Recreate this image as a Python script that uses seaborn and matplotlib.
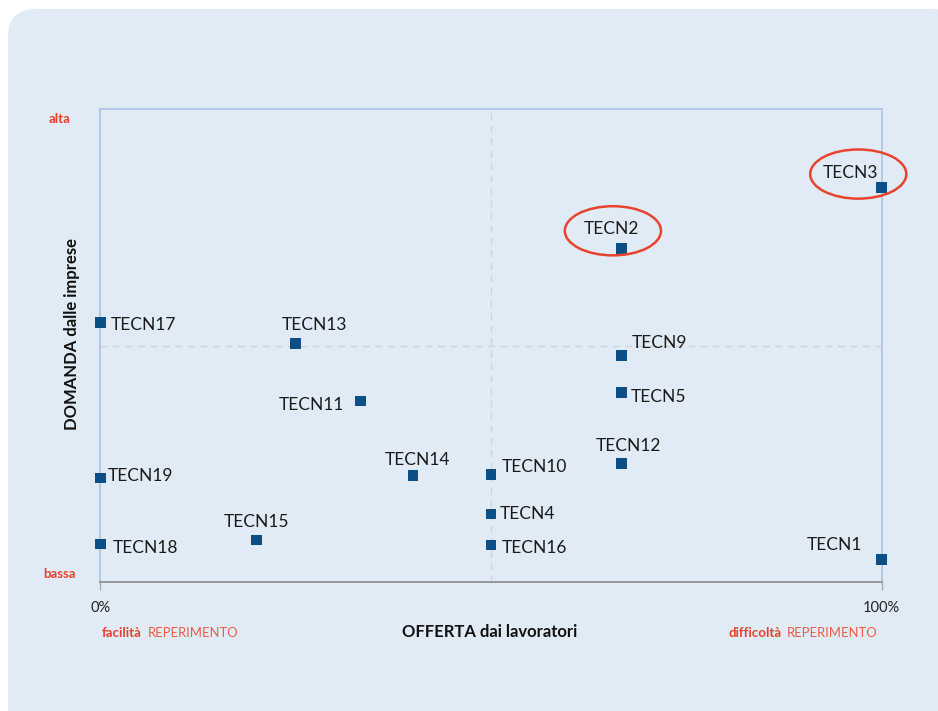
import numpy as np
import pandas as pd
import seaborn as sns
import matplotlib
matplotlib.use("Agg")
import matplotlib.pyplot as plt
from matplotlib.patches import FancyBboxPatch, Ellipse

# ---------------- data ----------------
labels = ["TECN1", "TECN2", "TECN3", "TECN4", "TECN5", "TECN9", "TECN10", "TECN11",
          "TECN12", "TECN13", "TECN14", "TECN15", "TECN16", "TECN17", "TECN18", "TECN19"]
offerta = [100, 66.7, 100, 50, 66.7, 66.7, 50, 33.3,
           66.7, 25, 40, 20, 50, 0, 0, 0]
domanda = [4.7, 70.6, 83.4, 14.4, 40.1, 47.9, 22.8, 38.3,
           25.1, 50.5, 22.5, 8.9, 7.8, 54.9, 8.0, 22.0]
highlighted = ["TECN2", "TECN3"]
x_ticks = [0, 100]
x_tick_labels = ["0%", "100%"]

# label placement (pixel offsets from point, horizontal alignment)
label_style = {
    "TECN1": (-20, 15, "right"), "TECN2": (-10, 19, "center"), "TECN3": (-3, 15, "right"),
    "TECN4": (9, 0, "left"), "TECN5": (9, -5, "left"), "TECN9": (10, 13, "left"),
    "TECN10": (11, 7, "left"), "TECN11": (-16, -4, "right"), "TECN12": (7, 17, "center"),
    "TECN13": (19, 18, "center"), "TECN14": (5, 16, "center"), "TECN15": (0, 18, "center"),
    "TECN16": (11, -3, "left"), "TECN17": (10, -3, "left"), "TECN18": (12, -4, "left"),
    "TECN19": (7, 2, "left"),
}
# ellipse centre offsets from point (data units) for highlighted items
ellipse_style = {"TECN2": (-1.1, 3.7), "TECN3": (-3.0, 2.9)}

df = pd.DataFrame({"label": labels, "offerta": offerta, "domanda": domanda})

sns.set_style("white")
plt.rcParams["font.family"] = ["Lato", "DejaVu Sans"]

W, H = 938, 711
fig = plt.figure(figsize=(W / 100, H / 100), dpi=100, facecolor="white")

def fx(x):
    return x / W

def fy(y):
    return 1 - y / H

bg = "#e1ebf5"
panel = FancyBboxPatch((fx(8), fy(711 + 40)), fx(960 - 8), (711 + 40 - 9) / H,
                       boxstyle="round,pad=0,rounding_size=0.03",
                       transform=fig.transFigure, facecolor=bg, edgecolor="none",
                       zorder=-10, mutation_aspect=W / H)
fig.patches.append(panel)

left, right, top, bottom = 100.3, 881.7, 109.3, 582
ax = fig.add_axes([fx(left), fy(bottom), fx(right - left), (bottom - top) / H])
ax.set_zorder(1)
ax.set_facecolor(bg)

ax.axvline(50, color="#cfd3d8", lw=1, ls=(0, (5, 4)), zorder=1)
ax.axhline(50, color="#cfd3d8", lw=1, ls=(0, (5, 4)), zorder=1)

sns.scatterplot(data=df, x="offerta", y="domanda", marker="s", s=58,
                color="#0b4f86", edgecolor="none", ax=ax, zorder=3, clip_on=False)

ax.set_xlim(0, 100)
ax.set_ylim(0, 100)

for lab, x, y in zip(labels, offerta, domanda):
    dx, dy, ha = label_style[lab]
    ax.annotate(lab, (x, y), xytext=(dx * 0.72, dy * 0.72), textcoords="offset points",
                ha=ha, va="center", fontsize=12.5, color="#1a1a1a", zorder=4)

for lab in highlighted:
    i = labels.index(lab)
    ox, oy = ellipse_style[lab]
    e = Ellipse((offerta[i] + ox, domanda[i] + oy), width=12.3, height=10.4,
                facecolor="none", edgecolor="#e8432f", lw=1.8, clip_on=False, zorder=5)
    ax.add_patch(e)

for s in ["left", "top", "right"]:
    ax.spines[s].set_color("#a9c4e3")
    ax.spines[s].set_linewidth(1.2)
ax.spines["bottom"].set_color("#8a8a8a")
ax.spines["bottom"].set_linewidth(1.2)

ax.set_xticks(x_ticks)
ax.set_xticklabels(x_tick_labels, fontsize=10.5, color="#222222")
ax.tick_params(axis="x", length=6, color="#a0a0a0", pad=8, bottom=True)
ax.set_yticks([])
ax.set_xlabel("")
ax.set_ylabel("")

red = "#e8402f"
fig.text(fx(490), fy(632), "OFFERTA dai lavoratori", ha="center", va="center",
         fontsize=12, fontweight="bold", color="#111111")
fig.text(fx(72), fy(334), "DOMANDA dalle imprese", ha="center", va="center",
         rotation=90, fontsize=12, fontweight="bold", color="#111111")
fig.text(fx(60), fy(119), "alta", ha="center", va="center", fontsize=9.5,
         fontweight="bold", color=red)
fig.text(fx(59), fy(574), "bassa", ha="center", va="center", fontsize=9.5,
         fontweight="bold", color=red)
fig.text(fx(102), fy(633), "facilità", ha="left", va="center", fontsize=9.5,
         fontweight="bold", color=red)
fig.text(fx(148), fy(633), "REPERIMENTO", ha="left", va="center", fontsize=9.4,
         color="#ee5a47")
fig.text(fx(728), fy(633), "difficoltà", ha="left", va="center", fontsize=9.5,
         fontweight="bold", color=red)
fig.text(fx(787), fy(633), "REPERIMENTO", ha="left", va="center", fontsize=9.4,
         color="#ee5a47")

fig.savefig("out.png", dpi=100, facecolor="white")
